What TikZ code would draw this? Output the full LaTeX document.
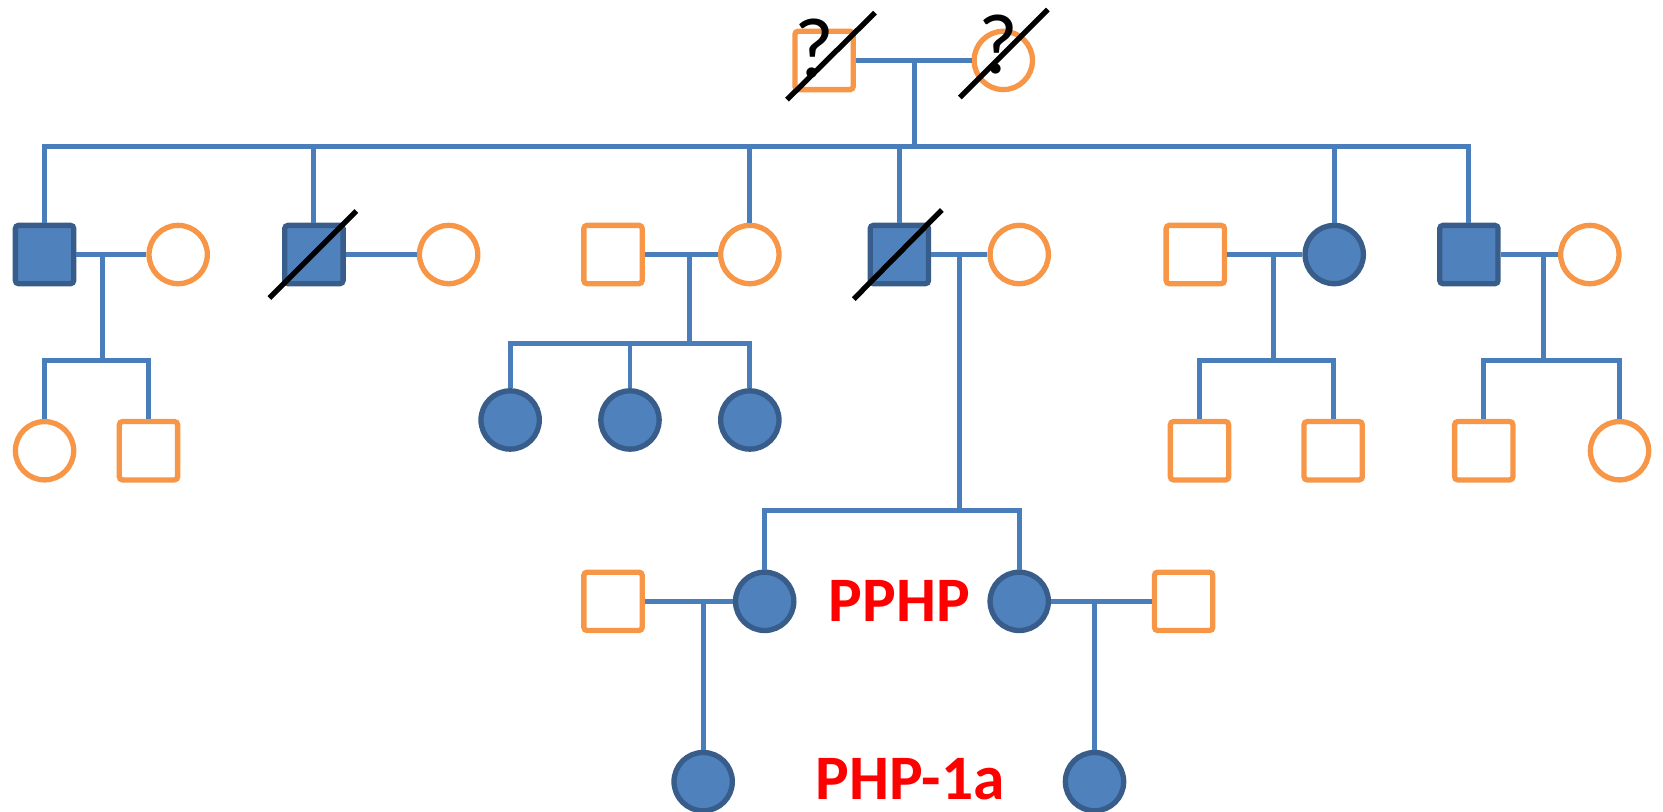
\documentclass[tikz,border=0pt]{standalone}
\usepackage{fontspec}
\setmainfont{Carlito}
\usepackage{tikz}
\usetikzlibrary{positioning,calc}

\definecolor{pedblue}{HTML}{4F81BD}
\definecolor{pedline}{HTML}{4A7EBB}
\definecolor{pededge}{HTML}{385D8A}
\definecolor{pedorange}{HTML}{F79646}

\begin{document}
\begin{tikzpicture}[
  x=0.1mm, y=-0.1mm,
  link/.style={draw=pedline,line width=0.47mm},
  male/.style={rectangle,draw=pedorange,line width=0.5mm,minimum size=5.5mm,
               inner sep=0pt,rounded corners=0.3mm},
  female/.style={circle,draw=pedorange,line width=0.5mm,minimum size=5.5mm,inner sep=0pt},
  affm/.style={male,draw=pededge,fill=pedblue},
  afff/.style={female,draw=pededge,fill=pedblue},
  slash/.style={draw=black,line width=0.5mm},
  qmark/.style={font=\fontsize{23}{26}\selectfont,inner sep=0pt},
  lab/.style={font=\fontsize{17}{20}\selectfont\bfseries,text=red,inner sep=0pt}
]
  \useasboundingbox (0,0) rectangle (1568,765);

  % generation I
  \node[male]   (p0) at (777,57) {};
  \node[female] (q0) at (946,57) {};
  \node[qmark]  (qp) at (768,46) {?};
  \node[qmark]  (qq) at (941,42) {?};
  \coordinate (m0)  at (862,57);
  \coordinate (sb0) at (862,138);

  % generation II
  \node[affm]   (a1) at (42,240) {};
  \node[female] (b1) at (168,240) {};
  \node[affm]   (a2) at (296,240) {};
  \node[female] (b2) at (423,240) {};
  \node[male]   (b3) at (578,240) {};
  \node[female] (a3) at (707,240) {};
  \node[affm]   (a4) at (848,240) {};
  \node[female] (b4) at (961,240) {};
  \node[male]   (b5) at (1127,240) {};
  \node[afff]   (a5) at (1258,240) {};
  \node[affm]   (a6) at (1385,240) {};
  \node[female] (b6) at (1499,240) {};

  \coordinate (m1) at (97,240);   \coordinate (sb1) at (97,340);
  \coordinate (m3) at (650,240);  \coordinate (sb3) at (650,324);
  \coordinate (m4) at (905,240);  \coordinate (sb4) at (905,481);
  \coordinate (m5) at (1201,240); \coordinate (sb5) at (1201,340);
  \coordinate (m6) at (1455,240); \coordinate (sb6) at (1455,340);

  % generation III
  \node[female] (k11) at (42,425) {};
  \node[male]   (k12) at (140,425) {};
  \node[afff]   (k31) at (481,396) {};
  \node[afff]   (k32) at (594,396) {};
  \node[afff]   (k33) at (707,396) {};
  \node[male]   (k51) at (1131,425) {};
  \node[male]   (k52) at (1257,425) {};
  \node[male]   (k61) at (1399,425) {};
  \node[female] (k62) at (1527,425) {};
  \node[afff]   (k41) at (721,567) {};
  \node[afff]   (k42) at (961,567) {};
  \node[male]   (h41) at (578,567) {};
  \node[male]   (h42) at (1116,567) {};

  \coordinate (m41) at (663,567);
  \coordinate (m42) at (1032,567);

  % generation IV
  \node[afff] (g1) at (663,737) {};
  \node[afff] (g2) at (1032,737) {};

  % marriages and lines of descent
  \draw[link] (p0) -- (q0);
  \draw[link] (m0) -- (sb0);
  \draw[link] (a1.north) |- (sb0) -| (a6.north);
  \foreach \n in {a2,a3,a4,a5}
    \draw[link] (\n.north) -- (\n.north |- sb0);

  \draw[link] (a1) -- (b1);
  \draw[link] (a2) -- (b2);
  \draw[link] (b3) -- (a3);
  \draw[link] (a4) -- (b4);
  \draw[link] (b5) -- (a5);
  \draw[link] (a6) -- (b6);

  \draw[link] (m1) -- (sb1);
  \draw[link] (k11.north) |- (sb1) -| (k12.north);
  \draw[link] (m3) -- (sb3);
  \draw[link] (k31.north) |- (sb3) -| (k33.north);
  \draw[link] (k32.north) -- (k32.north |- sb3);
  \draw[link] (m4) -- (sb4);
  \draw[link] (k41.north) |- (sb4) -| (k42.north);
  \draw[link] (m5) -- (sb5);
  \draw[link] (k51.north) |- (sb5) -| (k52.north);
  \draw[link] (m6) -- (sb6);
  \draw[link] (k61.north) |- (sb6) -| (k62.north);

  \draw[link] (h41) -- (k41);
  \draw[link] (k42) -- (h42);
  \draw[link] (m41) -- (g1.north);
  \draw[link] (m42) -- (g2.north);

  % deceased
  \draw[slash] ([shift={(-35,37)}]p0.center) -- ([shift={(48,-45)}]p0.center);
  \draw[slash] ([shift={(-41,35)}]q0.center) -- ([shift={(42,-48)}]q0.center);
  \draw[slash] ([shift={(-42,41)}]a2.center) -- ([shift={(40,-41)}]a2.center);
  \draw[slash] ([shift={(-43,42)}]a4.center) -- ([shift={(40,-42)}]a4.center);

  \node[lab] (pphp) at (848,567) {PPHP};
  \node[lab] (php)  at (858,735) {PHP-1a};
\end{tikzpicture}
\end{document}
